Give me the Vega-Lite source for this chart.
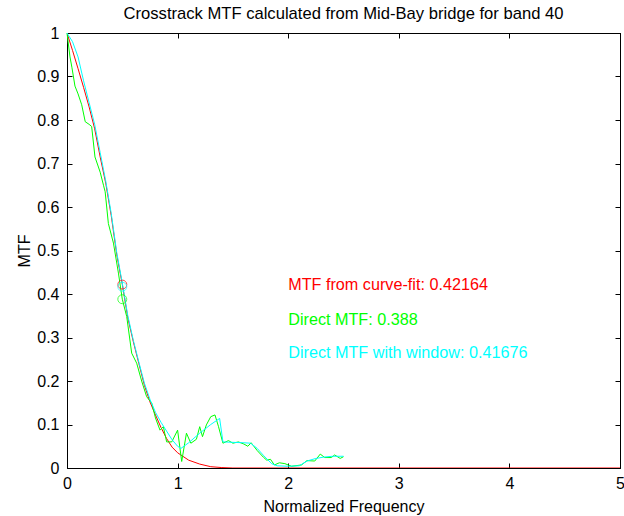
{
  "$schema": "https://vega.github.io/schema/vega-lite/v6.json",
  "width": 553,
  "height": 435,
  "autosize": {"type": "none"},
  "padding": {"left": 67, "top": 33, "right": 4, "bottom": 48},
  "background": "white",
  "config": {
    "view": {"stroke": "black", "strokeWidth": 1},
    "font": "Liberation Sans",
    "axis": {"grid": false, "domainColor": "black", "tickColor": "black", "labelColor": "black", "titleColor": "black", "labelFont": "Liberation Sans", "titleFont": "Liberation Sans", "labelFontSize": 16, "titleFontSize": 16, "titleFontWeight": "normal", "tickSize": -5, "labelPadding": 9, "labelFlush": false, "labelOverlap": false}
  },
  "resolve": {"axis": {"x": "independent", "y": "independent"}},
  "title": {"text": "Crosstrack MTF calculated from Mid-Bay bridge for band 40", "fontSize": 16.6, "fontWeight": "normal", "font": "Liberation Sans", "color": "black", "offset": 2},
  "datasets": {
    "curves": [
      {"s": "fit", "x": 0, "y": 1.0}, {"s": "fit", "x": 0.05, "y": 0.96}, {"s": "fit", "x": 0.1, "y": 0.918}, {"s": "fit", "x": 0.15, "y": 0.875}, {"s": "fit", "x": 0.2, "y": 0.83}, {"s": "fit", "x": 0.25, "y": 0.78}, {"s": "fit", "x": 0.3, "y": 0.715}, {"s": "fit", "x": 0.35, "y": 0.655}, {"s": "fit", "x": 0.4, "y": 0.58}, {"s": "fit", "x": 0.45, "y": 0.49}, {"s": "fit", "x": 0.5, "y": 0.422}, {"s": "fit", "x": 0.55, "y": 0.345}, {"s": "fit", "x": 0.6, "y": 0.29}, {"s": "fit", "x": 0.65, "y": 0.24}, {"s": "fit", "x": 0.7, "y": 0.19}, {"s": "fit", "x": 0.75, "y": 0.152}, {"s": "fit", "x": 0.8, "y": 0.122}, {"s": "fit", "x": 0.85, "y": 0.093}, {"s": "fit", "x": 0.9, "y": 0.068}, {"s": "fit", "x": 0.95, "y": 0.048}, {"s": "fit", "x": 1.0, "y": 0.035}, {"s": "fit", "x": 1.1, "y": 0.018}, {"s": "fit", "x": 1.2, "y": 0.009}, {"s": "fit", "x": 1.3, "y": 0.003}, {"s": "fit", "x": 1.4, "y": 0.001}, {"s": "fit", "x": 1.5, "y": 0}, {"s": "fit", "x": 2, "y": 0}, {"s": "fit", "x": 3, "y": 0}, {"s": "fit", "x": 4, "y": 0}, {"s": "fit", "x": 5, "y": 0},
      {"s": "direct", "x": 0, "y": 1.0}, {"s": "direct", "x": 0.027, "y": 0.945}, {"s": "direct", "x": 0.045, "y": 0.92}, {"s": "direct", "x": 0.072, "y": 0.878}, {"s": "direct", "x": 0.1, "y": 0.86}, {"s": "direct", "x": 0.133, "y": 0.835}, {"s": "direct", "x": 0.165, "y": 0.796}, {"s": "direct", "x": 0.2, "y": 0.79}, {"s": "direct", "x": 0.223, "y": 0.785}, {"s": "direct", "x": 0.253, "y": 0.715}, {"s": "direct", "x": 0.3, "y": 0.68}, {"s": "direct", "x": 0.33, "y": 0.65}, {"s": "direct", "x": 0.345, "y": 0.635}, {"s": "direct", "x": 0.374, "y": 0.562}, {"s": "direct", "x": 0.42, "y": 0.517}, {"s": "direct", "x": 0.465, "y": 0.448}, {"s": "direct", "x": 0.5, "y": 0.388}, {"s": "direct", "x": 0.54, "y": 0.348}, {"s": "direct", "x": 0.585, "y": 0.264}, {"s": "direct", "x": 0.63, "y": 0.241}, {"s": "direct", "x": 0.675, "y": 0.2}, {"s": "direct", "x": 0.72, "y": 0.164}, {"s": "direct", "x": 0.766, "y": 0.149}, {"s": "direct", "x": 0.8, "y": 0.115}, {"s": "direct", "x": 0.841, "y": 0.087}, {"s": "direct", "x": 0.871, "y": 0.095}, {"s": "direct", "x": 0.901, "y": 0.06}, {"s": "direct", "x": 0.947, "y": 0.06}, {"s": "direct", "x": 1.0, "y": 0.087}, {"s": "direct", "x": 1.037, "y": 0.015}, {"s": "direct", "x": 1.08, "y": 0.08}, {"s": "direct", "x": 1.12, "y": 0.057}, {"s": "direct", "x": 1.17, "y": 0.066}, {"s": "direct", "x": 1.2, "y": 0.095}, {"s": "direct", "x": 1.225, "y": 0.072}, {"s": "direct", "x": 1.26, "y": 0.099}, {"s": "direct", "x": 1.3, "y": 0.118}, {"s": "direct", "x": 1.338, "y": 0.122}, {"s": "direct", "x": 1.37, "y": 0.095}, {"s": "direct", "x": 1.41, "y": 0.057}, {"s": "direct", "x": 1.46, "y": 0.063}, {"s": "direct", "x": 1.5, "y": 0.057}, {"s": "direct", "x": 1.55, "y": 0.06}, {"s": "direct", "x": 1.6, "y": 0.055}, {"s": "direct", "x": 1.635, "y": 0.05}, {"s": "direct", "x": 1.665, "y": 0.058}, {"s": "direct", "x": 1.72, "y": 0.04}, {"s": "direct", "x": 1.775, "y": 0.025}, {"s": "direct", "x": 1.806, "y": 0.018}, {"s": "direct", "x": 1.84, "y": 0.02}, {"s": "direct", "x": 1.875, "y": 0.007}, {"s": "direct", "x": 1.92, "y": 0.012}, {"s": "direct", "x": 1.97, "y": 0.01}, {"s": "direct", "x": 2.03, "y": 0.004}, {"s": "direct", "x": 2.12, "y": 0.007}, {"s": "direct", "x": 2.17, "y": 0.017}, {"s": "direct", "x": 2.24, "y": 0.016}, {"s": "direct", "x": 2.29, "y": 0.032}, {"s": "direct", "x": 2.33, "y": 0.024}, {"s": "direct", "x": 2.39, "y": 0.024}, {"s": "direct", "x": 2.42, "y": 0.03}, {"s": "direct", "x": 2.47, "y": 0.022}, {"s": "direct", "x": 2.5, "y": 0.026},
      {"s": "window", "x": 0, "y": 1.0}, {"s": "window", "x": 0.05, "y": 0.98}, {"s": "window", "x": 0.1, "y": 0.945}, {"s": "window", "x": 0.15, "y": 0.89}, {"s": "window", "x": 0.2, "y": 0.84}, {"s": "window", "x": 0.25, "y": 0.79}, {"s": "window", "x": 0.3, "y": 0.725}, {"s": "window", "x": 0.35, "y": 0.66}, {"s": "window", "x": 0.4, "y": 0.585}, {"s": "window", "x": 0.45, "y": 0.495}, {"s": "window", "x": 0.5, "y": 0.425}, {"s": "window", "x": 0.55, "y": 0.35}, {"s": "window", "x": 0.6, "y": 0.293}, {"s": "window", "x": 0.65, "y": 0.243}, {"s": "window", "x": 0.7, "y": 0.195}, {"s": "window", "x": 0.75, "y": 0.158}, {"s": "window", "x": 0.8, "y": 0.128}, {"s": "window", "x": 0.85, "y": 0.105}, {"s": "window", "x": 0.9, "y": 0.085}, {"s": "window", "x": 0.95, "y": 0.065}, {"s": "window", "x": 1.0, "y": 0.05}, {"s": "window", "x": 1.03, "y": 0.045}, {"s": "window", "x": 1.1, "y": 0.058}, {"s": "window", "x": 1.2, "y": 0.08}, {"s": "window", "x": 1.3, "y": 0.1}, {"s": "window", "x": 1.38, "y": 0.114}, {"s": "window", "x": 1.41, "y": 0.06}, {"s": "window", "x": 1.5, "y": 0.059}, {"s": "window", "x": 1.6, "y": 0.058}, {"s": "window", "x": 1.66, "y": 0.057}, {"s": "window", "x": 1.72, "y": 0.045}, {"s": "window", "x": 1.78, "y": 0.028}, {"s": "window", "x": 1.85, "y": 0.01}, {"s": "window", "x": 1.9, "y": 0.005}, {"s": "window", "x": 2.0, "y": 0.004}, {"s": "window", "x": 2.1, "y": 0.005}, {"s": "window", "x": 2.17, "y": 0.016}, {"s": "window", "x": 2.25, "y": 0.022}, {"s": "window", "x": 2.32, "y": 0.025}, {"s": "window", "x": 2.4, "y": 0.027}, {"s": "window", "x": 2.5, "y": 0.027}
    ],
    "marks": [
      {"s": "fit", "x": 0.5, "y": 0.42164},
      {"s": "window", "x": 0.5, "y": 0.41676},
      {"s": "direct", "x": 0.5, "y": 0.388}
    ],
    "notes": [
      {"s": "fit", "x": 2.0, "y": 0.42, "label": "MTF from curve-fit: 0.42164"},
      {"s": "direct", "x": 2.0, "y": 0.34, "label": "Direct MTF: 0.388"},
      {"s": "window", "x": 2.0, "y": 0.265, "label": "Direct MTF with window: 0.41676"}
    ]
  },
  "layer": [
    {
      "data": {"name": "curves"},
      "transform": [{"filter": "datum.s === 'fit'"}],
      "mark": {"type": "line", "strokeWidth": 1, "color": "#FF0000", "clip": true},
      "encoding": {
        "x": {"field": "x", "type": "quantitative", "scale": {"domain": [0, 5], "nice": false, "zero": false}, "axis": {"orient": "bottom", "title": "Normalized Frequency", "values": [0, 1, 2, 3, 4, 5], "format": "~g", "labelPadding": 12, "titlePadding": 7}},
        "y": {"field": "y", "type": "quantitative", "scale": {"domain": [0, 1], "nice": false, "zero": false}, "axis": {"orient": "left", "title": "MTF", "values": [0, 0.1, 0.2, 0.3, 0.4, 0.5, 0.6, 0.7, 0.8, 0.9, 1], "format": "~g", "labelPadding": 13, "titlePadding": 4}}
      }
    },
    {
      "data": {"name": "curves"},
      "transform": [{"filter": "datum.s === 'direct'"}],
      "mark": {"type": "line", "strokeWidth": 1, "color": "#00FF00"},
      "encoding": {
        "x": {"field": "x", "type": "quantitative", "axis": null},
        "y": {"field": "y", "type": "quantitative", "axis": null}
      }
    },
    {
      "data": {"name": "curves"},
      "transform": [{"filter": "datum.s === 'window'"}],
      "mark": {"type": "line", "strokeWidth": 1, "color": "#00FFFF"},
      "encoding": {
        "x": {"field": "x", "type": "quantitative", "axis": null},
        "y": {"field": "y", "type": "quantitative", "axis": null}
      }
    },
    {
      "data": {"name": "marks"},
      "mark": {"type": "point", "shape": "circle", "filled": false, "size": 80, "strokeWidth": 1},
      "encoding": {
        "x": {"field": "x", "type": "quantitative", "axis": {"orient": "top", "labels": false, "title": null, "values": [0, 1, 2, 3, 4, 5]}},
        "y": {"field": "y", "type": "quantitative", "axis": {"orient": "right", "labels": false, "title": null, "values": [0, 0.1, 0.2, 0.3, 0.4, 0.5, 0.6, 0.7, 0.8, 0.9, 1]}},
        "color": {"field": "s", "type": "nominal", "scale": {"domain": ["fit", "direct", "window"], "range": ["#FF0000", "#00FF00", "#00FFFF"]}, "legend": null}
      }
    },
    {
      "data": {"name": "notes"},
      "mark": {"type": "text", "align": "left", "baseline": "middle", "fontSize": 16.2, "font": "Liberation Sans"},
      "encoding": {
        "x": {"field": "x", "type": "quantitative", "axis": null},
        "y": {"field": "y", "type": "quantitative", "axis": null},
        "text": {"field": "label"},
        "color": {"field": "s", "type": "nominal", "scale": {"domain": ["fit", "direct", "window"], "range": ["#FF0000", "#00FF00", "#00FFFF"]}, "legend": null}
      }
    }
  ]
}
